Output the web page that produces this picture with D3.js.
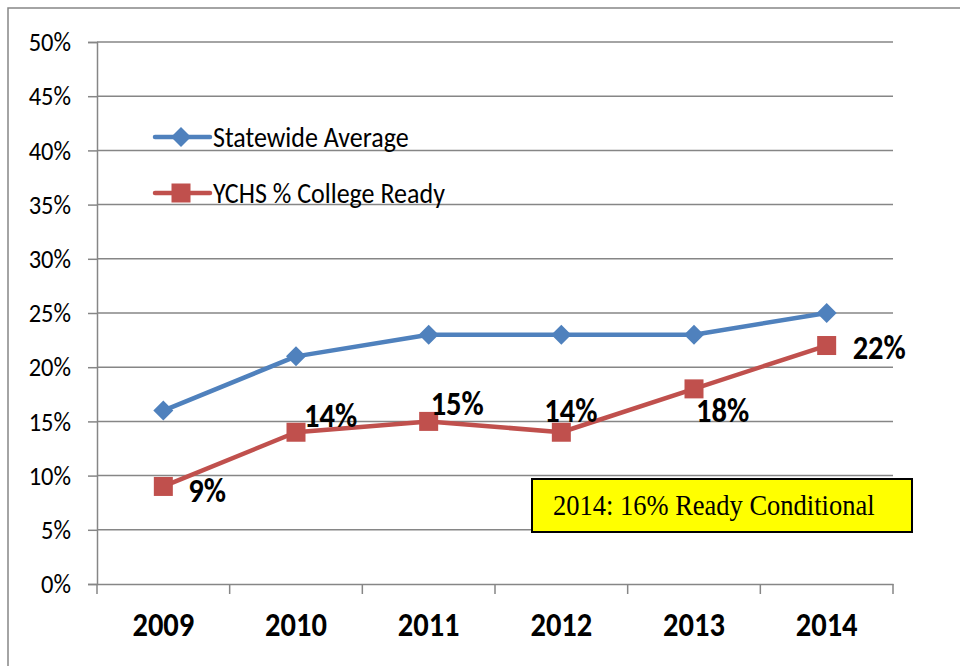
<!DOCTYPE html>
<html>
<head>
<meta charset="utf-8">
<script src="https://cdn.jsdelivr.net/npm/d3@7"></script>
<style>
  body { margin: 0; background: #fff; }
  svg text { font-family: Carlito, Lato, "Open Sans", sans-serif; }
</style>
</head>
<body>
<div id="chart"></div>
<script>
// data
const years = ["2009", "2010", "2011", "2012", "2013", "2014"];
const statewide = [16, 21, 23, 23, 23, 25];
const ychs = [9, 14, 15, 14, 18, 22];
const yTicks = [0, 5, 10, 15, 20, 25, 30, 35, 40, 45, 50];
const seriesNames = ["Statewide Average", "YCHS % College Ready"];
const noteText = "2014: 16% Ready Conditional";

// label placement for the YCHS values (dx, dy from the point)
const labelOffsets = [[25, 4], [8, -17], [2, -18], [-17, -22], [2, 21], [26, 2]];

let width = 960, height = 666
let margin = {top: 42, right: 67, bottom: 82, left: 97}
// the source picture is a bit stretched vertically
const stretch = 1.1

const svg = d3.select("#chart").append("svg")
  .attr("width", width)
  .attr("height", height)

// outer frame (only left/top visible in the crop)
svg.append("rect")
  .attr("x", 8).attr("y", 8)
  .attr("width", 980).attr("height", 700)
  .attr("fill", "none")
  .attr("stroke", "#868686")
  .attr("stroke-width", 1.5)

const x = d3.scaleBand()
  .domain(years)
  .range([margin.left, width - margin.right])

const y = d3.scaleLinear()
  .domain([0, 50])
  .range([height - margin.bottom, margin.top])

// put text at (tx,ty) with a vertical stretch
function place(sel, tx, ty) {
  sel.attr("x", null).attr("y", null)
    .attr("transform", function (d, i) {
      return `translate(${tx(d, i)},${ty(d, i)}) scale(1,${stretch})`
    })
}

// gridlines + y axis
const yAxis = svg.append("g")
  .attr("transform", `translate(${margin.left},0)`)
  .call(d3.axisLeft(y).tickValues(yTicks).tickFormat(d => d + "%")
    .tickSize(9).tickPadding(17))
yAxis.select(".domain").attr("stroke", "#868686").attr("stroke-width", 1.5)
yAxis.selectAll(".tick line").attr("stroke", "#868686").attr("stroke-width", 1.5)
yAxis.selectAll(".tick text")
  .attr("font-size", 24.5).attr("fill", "#000")
  .attr("transform", `scale(1,${stretch})`)
  .style("font-family", "Carlito, Lato, sans-serif")

svg.append("g").selectAll("line")
  .data(yTicks.filter(d => d > 0))
  .join("line")
  .attr("x1", margin.left).attr("x2", width - margin.right)
  .attr("y1", d => y(d)).attr("y2", d => y(d))
  .attr("stroke", "#868686").attr("stroke-width", 1.5)

// x axis with ticks between categories
const xAxis = svg.append("g")
  .attr("transform", `translate(0,${height - margin.bottom})`)
  .call(d3.axisBottom(x).tickSize(0).tickPadding(28))
xAxis.select(".domain").attr("stroke", "#868686").attr("stroke-width", 1.5)
xAxis.selectAll(".tick text")
  .attr("font-size", 30.5).attr("font-weight", "bold").attr("fill", "#000")
  .attr("y", null).attr("dy", null)
  .attr("transform", `translate(0,52) scale(1,${stretch})`)
  .style("font-family", "Carlito, Lato, sans-serif")
xAxis.selectAll("line.sep")
  .data(years.map(d => x(d)).concat([x.range()[1]]))
  .join("line").attr("class", "sep")
  .attr("x1", d => d).attr("x2", d => d)
  .attr("y1", 0).attr("y2", 10)
  .attr("stroke", "#868686").attr("stroke-width", 1.5)

const cx = d => x(d) + x.bandwidth() / 2
const line = d3.line().x((d, i) => cx(years[i])).y(d => y(d))

const blue = "#4F81BD", red = "#C0504D"

svg.append("path").datum(statewide)
  .attr("d", line).attr("fill", "none")
  .attr("stroke", blue).attr("stroke-width", 4.5).attr("stroke-linejoin", "round")
svg.append("path").datum(ychs)
  .attr("d", line).attr("fill", "none")
  .attr("stroke", red).attr("stroke-width", 4.5).attr("stroke-linejoin", "round")

const diamond = d3.symbol().type(d3.symbolSquare).size(200)
svg.append("g").selectAll("path")
  .data(statewide).join("path")
  .attr("d", diamond)
  .attr("transform", (d, i) => `translate(${cx(years[i])},${y(d)}) rotate(45)`)
  .attr("fill", blue)

svg.append("g").selectAll("rect")
  .data(ychs).join("rect")
  .attr("x", (d, i) => cx(years[i]) - 9.5)
  .attr("y", d => y(d) - 9.5)
  .attr("width", 19).attr("height", 19)
  .attr("fill", red)

// value labels
svg.append("g").selectAll("text")
  .data(ychs).join("text")
  .attr("dy", "0.35em")
  .attr("font-size", 30.5).attr("font-weight", "bold")
  .text(d => d + "%")
  .call(place, (d, i) => cx(years[i]) + labelOffsets[i][0], (d, i) => y(d) + labelOffsets[i][1])

// legend
const legend = svg.append("g")
const colors = [blue, red]
seriesNames.forEach((name, i) => {
  const ly = 137 + i * 56
  legend.append("line")
    .attr("x1", 155).attr("x2", 210).attr("y1", ly).attr("y2", ly)
    .attr("stroke", colors[i]).attr("stroke-width", 4.5).attr("stroke-linecap", "round")
  if (i === 0) {
    legend.append("path").attr("d", diamond)
      .attr("transform", `translate(181,${ly}) rotate(45)`).attr("fill", blue)
  } else {
    legend.append("rect").attr("x", 171.5).attr("y", ly - 9.5)
      .attr("width", 19).attr("height", 19).attr("fill", red)
  }
  legend.append("text")
    .attr("dy", "0.35em")
    .attr("font-size", 26).text(name)
    .call(place, () => 213, () => ly)
})

// note box
svg.append("rect")
  .attr("x", 532).attr("y", 479).attr("width", 380).attr("height", 53)
  .attr("fill", "#ffff00").attr("stroke", "#000").attr("stroke-width", 2)
svg.append("text")
  .attr("font-size", 26.5)
  .style("font-family", "'Liberation Serif', 'Times New Roman', serif")
  .text(noteText)
  .call(place, () => 553, () => 515)
</script>
</body>
</html>
